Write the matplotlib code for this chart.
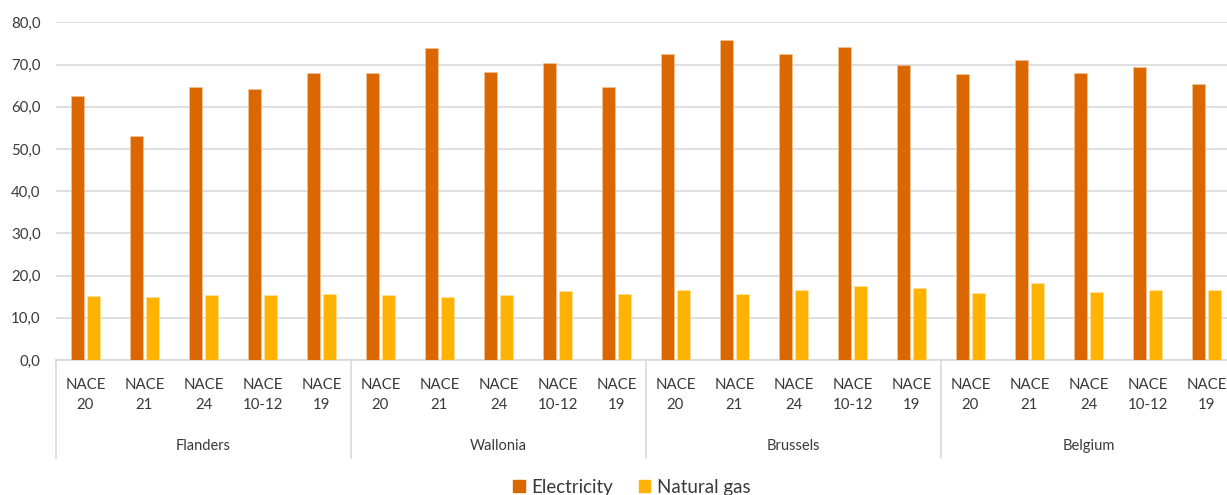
import matplotlib
matplotlib.use("Agg")
import matplotlib.pyplot as plt
import matplotlib.transforms as mtransforms
from matplotlib.patches import Patch
import numpy as np

plt.rcParams['font.family'] = ['Lato', 'DejaVu Sans']

regions = ["Flanders", "Wallonia", "Brussels", "Belgium"]
sectors = ["NACE\n20", "NACE\n21", "NACE\n24", "NACE\n10-12", "NACE\n19"]
electricity = [62.6, 53.1, 64.6, 64.2, 68.0,
               68.0, 73.9, 68.2, 70.4, 64.6,
               72.4, 75.7, 72.4, 74.1, 70.0,
               67.7, 71.0, 68.0, 69.5, 65.3]
natural_gas = [15.2, 15.0, 15.4, 15.4, 15.6,
               15.3, 15.0, 15.3, 16.4, 15.6,
               16.7, 15.6, 16.7, 17.6, 17.0,
               15.8, 18.2, 16.0, 16.7, 16.7]
yticks = [0, 10, 20, 30, 40, 50, 60, 70, 80]

c_elec = "#DA6700"
c_gas = "#FFB300"
txt = "#3a3a3a"

W, H = 1227, 495
fig = plt.figure(figsize=(W / 100, H / 100), dpi=100)
left, right, bottom, top = 56, 1236, 360, 22.3
ax = fig.add_axes([left / W, (H - bottom) / H, (right - left) / W, (bottom - top) / H])

n = len(electricity)
x = np.arange(n)
bw = 0.215
ax.bar(x - 0.14, electricity, width=bw, color=c_elec, edgecolor="#f3c9a0", linewidth=0.4, zorder=3)
ax.bar(x + 0.14, natural_gas, width=bw, color=c_gas, edgecolor="#ffe6a8", linewidth=0.4, zorder=3)

ax.set_xlim(-0.5, n - 0.5)
ax.set_ylim(0, 80)
ax.set_yticks(yticks)
ax.set_yticklabels([f"{v:.1f}".replace(".", ",") for v in yticks], fontsize=10.8, color=txt)
ax.tick_params(axis="y", length=0, pad=11)
ax.grid(axis="y", color="#d9d9d9", linewidth=1.2, zorder=0)
for s in ["left", "right", "top"]:
    ax.spines[s].set_visible(False)
ax.spines["bottom"].set_color("#d9d9d9")
ax.spines["bottom"].set_linewidth(1.2)
ax.set_xticks([])

axh = bottom - top
trans = mtransforms.blended_transform_factory(ax.transData, ax.transAxes)
for i in range(n):
    ax.text(i, -35 / axh, sectors[i % len(sectors)], transform=trans, ha="center", va="center",
            fontsize=10.8, color=txt, linespacing=1.55)
ns = len(sectors)
for r, name in enumerate(regions):
    ax.text(r * ns + (ns - 1) / 2, -86 / axh, name, transform=trans, ha="center", va="center",
            fontsize=10.5, color=txt)
for r in range(len(regions) + 1):
    xv = r * ns - 0.5
    ax.plot([xv, xv], [0, -98 / axh], transform=trans, color="#d9d9d9", linewidth=1.2, clip_on=False)

handles = [Patch(color=c_elec, label="Electricity"), Patch(color=c_gas, label="Natural gas")]
fig.legend(handles=handles, loc="center", bbox_to_anchor=(632 / W, (H - 487) / H), ncol=2,
           frameon=False, fontsize=13.5, handlelength=0.6, handleheight=0.6, handletextpad=0.35,
           columnspacing=1.4, labelcolor=txt)

fig.savefig("out.png", dpi=100)
